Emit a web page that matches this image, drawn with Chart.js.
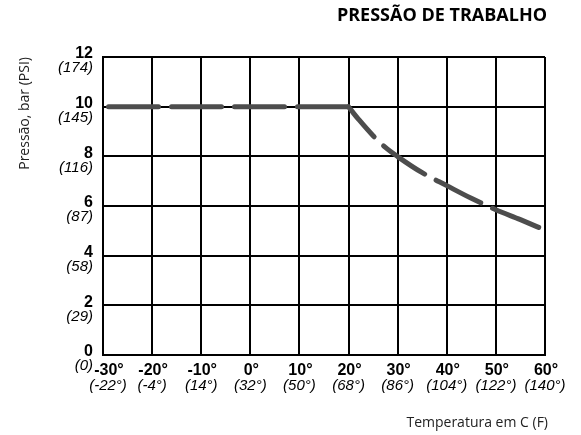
<!DOCTYPE html>
<html>
<head>
<meta charset="utf-8">
<script src="https://cdn.jsdelivr.net/npm/chart.js@4/dist/chart.umd.min.js"></script>
<style>
  html, body { margin: 0; padding: 0; background: #fff; }
  canvas { display: block; }
</style>
</head>
<body>
<canvas id="c" width="581" height="435"></canvas>
<script>
// ---- data ----
const tempC = [-30, -20, -10, 0, 10, 20, 30, 40, 50, 60];
const tempCLabels = ['-30°', '-20°', '-10°', '0°', '10°', '20°', '30°', '40°', '50°', '60°'];
const tempFLabels = ['(-22°)', '(-4°)', '(14°)', '(32°)', '(50°)', '(68°)', '(86°)', '(104°)', '(122°)', '(140°)'];
const pressureBar = [0, 2, 4, 6, 8, 10, 12];
const pressureBarLabels = ['0', '2', '4', '6', '8', '10', '12'];
const pressurePsiLabels = ['(0)', '(29)', '(58)', '(87)', '(116)', '(145)', '(174)'];

const curveTemp = [-30, -20, -10, 0, 10, 20, 21, 22, 25, 27.5, 30, 35, 40, 45, 50, 55, 60];
const curvePressure = [10, 10, 10, 10, 10, 10, 9.74, 9.5, 8.83, 8.36, 7.99, 7.34, 6.82, 6.31, 5.85, 5.45, 5.03];

const titleText = 'PRESSÃO DE TRABALHO';
const yTitleText = 'Pressão, bar (PSI)';
const xTitleText = 'Temperatura em C (F)';

// split the curve into the flat part and the falling part (both from the arrays above)
const flatPts = [], fallPts = [];
curveTemp.forEach((t, i) => {
  if (t <= 20) flatPts.push({ x: t, y: curvePressure[i] });
  if (t >= 20) fallPts.push({ x: t, y: curvePressure[i] });
});

const textPlugin = {
  id: 'texts',
  afterDraw(chart) {
    const { ctx, scales: { x, y }, chartArea } = chart;
    ctx.save();
    ctx.fillStyle = '#000';

    // y tick labels
    ctx.textAlign = 'right';
    ctx.textBaseline = 'middle';
    pressureBar.forEach((v, i) => {
      const py = y.getPixelForValue(v);
      ctx.font = 'bold 16px "Liberation Sans", Arial, sans-serif';
      ctx.fillText(pressureBarLabels[i], chartArea.left - 10, py - 3);
      ctx.font = 'italic 15px "Liberation Sans", Arial, sans-serif';
      ctx.fillText(pressurePsiLabels[i], chartArea.left - 10, py + 11);
    });

    // x tick labels
    ctx.textAlign = 'center';
    tempC.forEach((v, i) => {
      const px = x.getPixelForValue(v) + (i === 0 ? 5 : 0);
      ctx.font = 'bold 16px "Liberation Sans", Arial, sans-serif';
      ctx.fillText(tempCLabels[i], px + 1, chartArea.bottom + 16);
      ctx.font = 'italic 15px "Liberation Sans", Arial, sans-serif';
      ctx.fillText(tempFLabels[i], px, chartArea.bottom + 31);
    });

    // main title
    ctx.textAlign = 'right';
    ctx.font = 'bold 18px "Open Sans", sans-serif';
    ctx.fillText(titleText, chartArea.right + 2, 16);

    // x axis title
    ctx.font = '14px "Open Sans", sans-serif';
    ctx.fillStyle = '#222';
    ctx.fillText(xTitleText, chartArea.right + 3, 423);

    // y axis title (rotated, top aligned)
    ctx.save();
    ctx.translate(25, chartArea.top);
    ctx.rotate(-Math.PI / 2);
    ctx.textAlign = 'right';
    ctx.fillText(yTitleText, 0, 0);
    ctx.restore();

    ctx.restore();
  }
};

new Chart(document.getElementById('c'), {
  type: 'line',
  data: {
    datasets: [
      {
        data: flatPts,
        borderColor: '#4d4d4d',
        borderWidth: 5,
        borderDash: [50, 13],
        borderDashOffset: -5.5,
        borderCapStyle: 'round',
        pointRadius: 0,
        tension: 0,
        fill: false
      },
      {
        data: fallPts,
        borderColor: '#4d4d4d',
        borderWidth: 5,
        borderDash: [50, 13],
        borderDashOffset: 10.5,
        borderCapStyle: 'round',
        pointRadius: 0,
        cubicInterpolationMode: 'monotone',
        fill: false
      }
    ]
  },
  options: {
    responsive: false,
    animation: false,
    devicePixelRatio: 1,
    layout: { padding: { left: 103, right: 36, top: 57, bottom: 80 } },
    plugins: { legend: { display: false }, tooltip: { enabled: false }, title: { display: false } },
    scales: {
      x: {
        type: 'linear',
        min: -30, max: 60,
        ticks: { stepSize: 10, display: false },
        grid: { color: '#000', lineWidth: 2, drawTicks: false },
        border: { color: '#000', width: 2 }
      },
      y: {
        type: 'linear',
        min: 0, max: 12,
        ticks: { stepSize: 2, display: false },
        grid: { color: '#000', lineWidth: 2, drawTicks: false },
        border: { color: '#000', width: 2 }
      }
    }
  },
  plugins: [textPlugin]
});
</script>
</body>
</html>
